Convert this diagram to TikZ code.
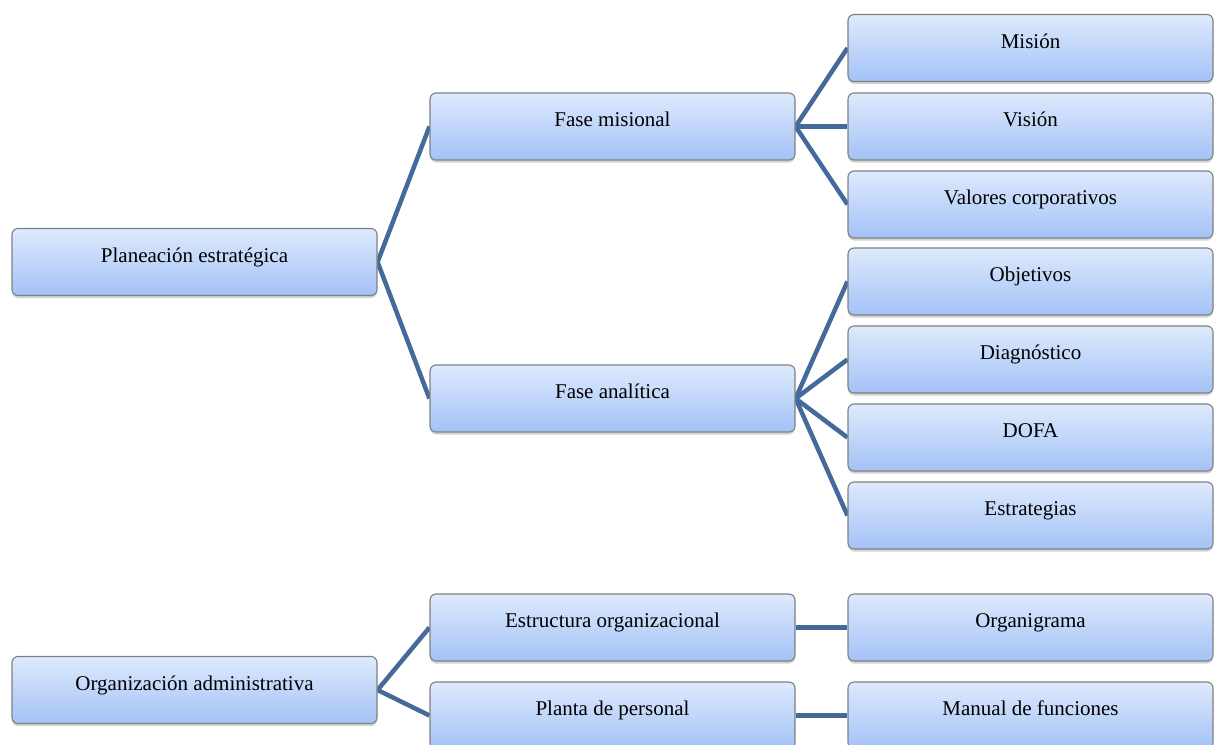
\documentclass[tikz,border=0pt]{standalone}
\usepackage{fontspec}
\setmainfont{Liberation Serif}
\usetikzlibrary{shadows,backgrounds}
\definecolor{linkblue}{HTML}{44699B}
\definecolor{boxtop}{HTML}{DEEAFD}
\definecolor{boxbot}{HTML}{A3C2F6}
\definecolor{boxedge}{HTML}{7F8080}
\tikzset{
  box/.style={draw=boxedge, line width=1.1pt, rounded corners=6pt,
    top color=boxtop, bottom color=boxbot,
    minimum width=365pt, minimum height=67pt, inner sep=0pt,
    text height=10pt, text depth=10pt,
    font=\fontsize{21}{25}\selectfont,
    drop shadow={shadow xshift=0pt, shadow yshift=-2.5pt, opacity=0.35}},
  link/.style={draw=linkblue, line width=4.5pt}
}
\begin{document}
\begin{tikzpicture}[x=1pt,y=1pt]
\useasboundingbox (0,-744) rectangle (1217,0);
\node[box] (P) at (194.5,-262) {Planeación estratégica};
\node[box] (O) at (194.5,-690) {Organización administrativa};
\node[box] (FM) at (612.5,-126.5) {Fase misional};
\node[box] (FA) at (612.5,-398.5) {Fase analítica};
\node[box] (EO) at (612.5,-627.5) {Estructura organizacional};
\node[box] (PP) at (612.5,-715.5) {Planta de personal};
\node[box] (Mi) at (1030.5,-48) {Misión};
\node[box] (Vi) at (1030.5,-126.5) {Visión};
\node[box] (Va) at (1030.5,-204.5) {Valores corporativos};
\node[box] (Ob) at (1030.5,-281.5) {Objetivos};
\node[box] (Di) at (1030.5,-359.5) {Diagnóstico};
\node[box] (Do) at (1030.5,-437.5) {DOFA};
\node[box] (Es) at (1030.5,-515.5) {Estrategias};
\node[box] (Or) at (1030.5,-627.5) {Organigrama};
\node[box] (Ma) at (1030.5,-715.5) {Manual de funciones};
\begin{scope}[on background layer]
\draw[link] (P.east) -- (FM.west);
\draw[link] (P.east) -- (FA.west);
\draw[link] (FM.east) -- (Mi.west);
\draw[link] (FM.east) -- (Vi.west);
\draw[link] (FM.east) -- (Va.west);
\draw[link] (FA.east) -- (Ob.west);
\draw[link] (FA.east) -- (Di.west);
\draw[link] (FA.east) -- (Do.west);
\draw[link] (FA.east) -- (Es.west);
\draw[link] (O.east) -- (EO.west);
\draw[link] (O.east) -- (PP.west);
\draw[link] (EO.east) -- (Or.west);
\draw[link] (PP.east) -- (Ma.west);
\end{scope}
\end{tikzpicture}
\end{document}
